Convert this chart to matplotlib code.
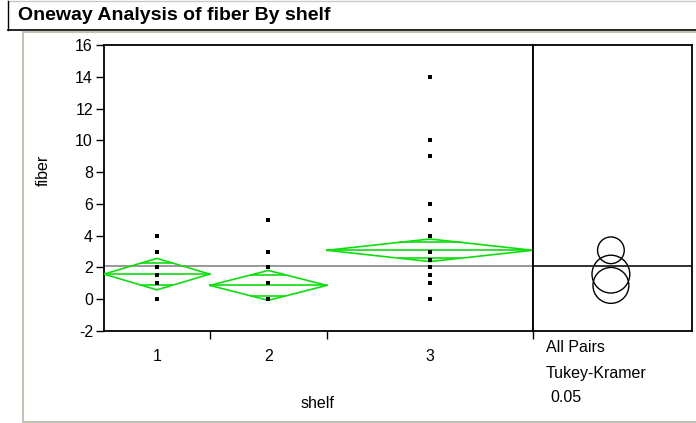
import matplotlib
matplotlib.use("Agg")
import matplotlib.pyplot as plt
from matplotlib.lines import Line2D
from matplotlib.patches import Circle

plt.rcParams["font.family"] = ["Liberation Sans", "DejaVu Sans"]

# Daten
shelves = ["1", "2", "3"]
counts = [19, 21, 37]
means = [1.58, 0.87, 3.08]
ci_half = [0.99, 0.94, 0.71]
grand_mean = 2.08
circle_radius = [1.19, 1.13, 0.84]
fiber_1 = [0, 1, 1.5, 2, 3, 4]
fiber_2 = [0, 1, 2, 3, 5]
fiber_3 = [0, 1, 1.5, 2, 2.5, 3, 4, 5, 6, 9, 10, 14]
y_ticks = [-2, 0, 2, 4, 6, 8, 10, 12, 14, 16]

W, H = 696, 423
fig = plt.figure(figsize=(W / 100, H / 100), dpi=100)


def px(x0, y0, x1, y1):
    # Pixelbox -> Figurkoordinaten
    return [x0 / W, 1 - y1 / H, (x1 - x0) / W, (y1 - y0) / H]


def fline(xs, ys, color, lw):
    fig.add_artist(Line2D([x / W for x in xs], [1 - y / H for y in ys],
                          color=color, lw=lw, transform=fig.transFigure))


# Rahmen und Titelleiste
fline([8, W], [1, 1], "#c8c8c8", 1.0)
fline([8, 8], [1, 30], "black", 1.0)
fline([8, W], [30, 30], "black", 1.2)
fline([22.5, W], [32.5, 32.5], "#c4c2b4", 1.5)
fline([22.5, 22.5], [32.5, 422], "#c4c2b4", 1.5)
fline([22.5, W], [422, 422], "#c4c2b4", 1.5)
fig.text(18 / W, 1 - 15.5 / H, "Oneway Analysis of fiber By shelf",
         fontsize=14, fontweight="bold", va="center", ha="left")

# Hauptdiagramm
ax = fig.add_axes(px(104, 45, 533, 331))
total = sum(counts)
ax.set_xlim(0, total)
ax.set_ylim(-2, 16)

green = "#10dc10"
groups = [fiber_1, fiber_2, fiber_3]
edges = [0]
for n in counts:
    edges.append(edges[-1] + n)
centers = []
k = 1 - 1 / 2 ** 0.5
for i in range(3):
    a, b = edges[i], edges[i + 1]
    c = (a + b) / 2
    hw = (b - a) / 2
    centers.append(c)
    m, h = means[i], ci_half[i]
    ax.plot([a, c, b, c, a], [m, m + h, m, m - h, m], color=green, lw=1.2,
            zorder=3)
    ax.plot([a, b], [m, m], color=green, lw=1.2, zorder=3)
    # Overlap-Marken
    d = h / 2 ** 0.5
    for s in (1, -1):
        ax.plot([c - hw * k, c + hw * k], [m + s * d, m + s * d],
                color=green, lw=1.2, zorder=3)
    ax.scatter([c] * len(groups[i]), groups[i], marker="s", s=9,
               color="black", zorder=4, linewidths=0)

ax.axhline(grand_mean, color="#909090", lw=1.3, zorder=2)

ax.set_yticks(y_ticks)
ax.set_yticklabels([str(t) for t in y_ticks], fontsize=11.5)
ax.set_xticks(edges[1:])
ax.set_xticklabels([])
for c, lab in zip(centers, shelves):
    ax.text(c, -3.6, lab, ha="center", va="center", fontsize=11.5)
ax.tick_params(direction="out", length=6, width=1, color="black", pad=2)
for sp in ax.spines.values():
    sp.set_linewidth(1.3)
ax.set_ylabel("fiber", fontsize=11.5)
ax.yaxis.set_label_coords(-0.125, 0.56)
fig.text(318 / W, 1 - 403 / H, "shelf", ha="center", va="center",
         fontsize=11.5)

# Vergleichskreise
ax2 = fig.add_axes(px(533, 45, 692, 331))
ax2.set_ylim(-2, 16)
units_per_px = 18 / 286
xr = 159 * units_per_px
ax2.set_xlim(0, xr)
ax2.axhline(grand_mean, color="#202020", lw=1.3)
for m, r in zip(means, circle_radius):
    ax2.add_patch(Circle((xr / 2 - 0.1, m), r, fill=False, ec="black",
                         lw=1.0))
ax2.set_xticks([])
ax2.set_yticks([])
for sp in ax2.spines.values():
    sp.set_linewidth(1.3)

fig.text(546 / W, 1 - 347 / H, "All Pairs", fontsize=11.5, va="center")
fig.text(546 / W, 1 - 373 / H, "Tukey-Kramer", fontsize=11.5, va="center")
fig.text(550 / W, 1 - 397 / H, "0.05", fontsize=11.5, va="center")

fig.savefig("out.png", dpi=100)
